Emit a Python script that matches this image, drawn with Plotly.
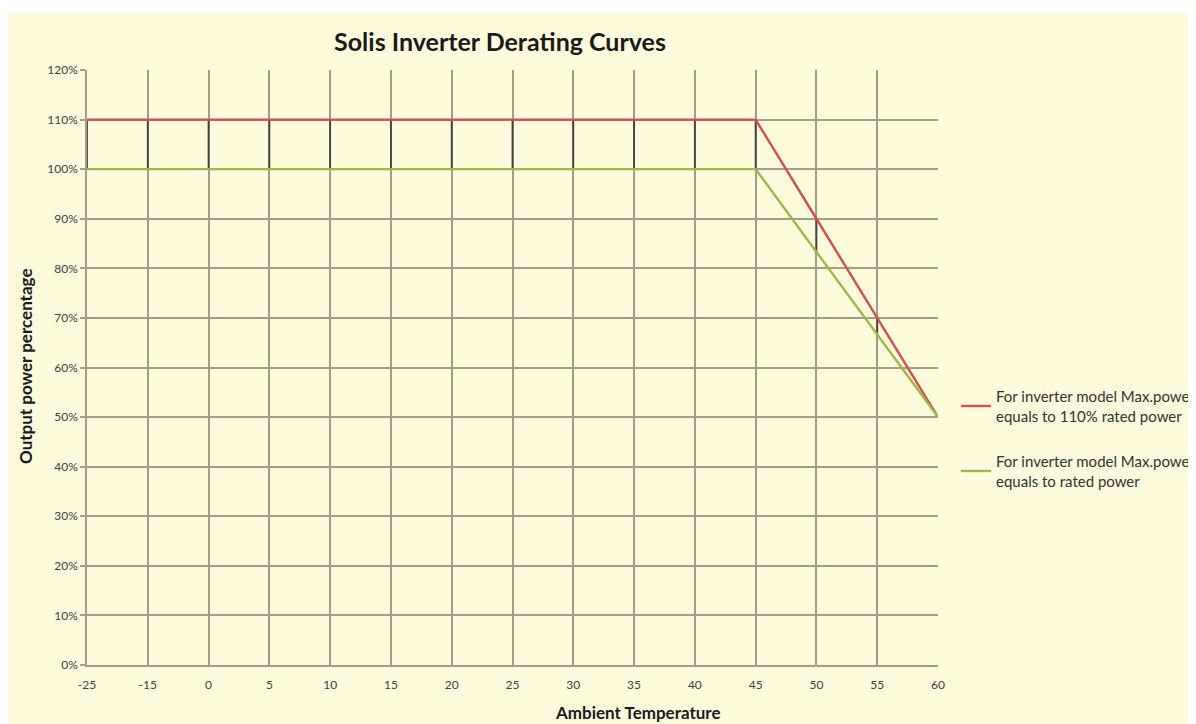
import plotly.graph_objects as go

temps = ["-25", "-15", "0", "5", "10", "15", "20", "25", "30", "35", "40", "45", "50", "55", "60"]
max110 = [110, 110, 110, 110, 110, 110, 110, 110, 110, 110, 110, 110, 90, 70, 50]
rated = [100, 100, 100, 100, 100, 100, 100, 100, 100, 100, 100, 100, 83.3, 66.7, 50]
yticks = [0, 10, 20, 30, 40, 50, 60, 70, 80, 90, 100, 110, 120]

BG = "#FEFADC"
GRID = "#A59C88"
RED = "#D0504D"
GREEN = "#9BB84A"
FONT = "Lato"

# figure coordinates (page body adds an 8px offset)
W, H = 1196, 724
L, T = 79, 62
R = W - 930
B = H - 657
pw, ph = W - L - R, H - T - B

def px_x(p):
    return (p - L) / pw

def px_y(p):
    return (H - B - p) / ph

# high-low connector lines
hx, hy = [], []
for t, a, b in zip(temps, max110, rated):
    hx += [t, t, None]
    hy += [b, a, None]

fig = go.Figure()
fig.add_trace(go.Scatter(x=hx, y=hy, mode="lines", line=dict(color="#404040", width=1.8),
                         showlegend=False, hoverinfo="skip"))
fig.add_trace(go.Scatter(x=temps, y=max110, mode="lines", line=dict(color=RED, width=2.4),
                         name="For inverter model Max.power<br>equals to 110% rated power", legend="legend"))
fig.add_trace(go.Scatter(x=temps, y=rated, mode="lines", line=dict(color=GREEN, width=2.4),
                         name="For inverter model Max.power<br>equals to rated power", legend="legend2"))

fig.add_shape(type="rect", xref="paper", yref="paper", x0=px_x(-10), x1=px_x(W + 10),
              y0=px_y(5), y1=px_y(-10), fillcolor="white", line=dict(width=0), layer="above")

legend_common = dict(bgcolor="rgba(0,0,0,0)", font=dict(family=FONT, size=15, color="#333333"),
                     xanchor="left", yanchor="middle", itemwidth=30, tracegroupgap=0)
fig.update_layout(
    width=W, height=H,
    margin=dict(l=L, r=R, t=T, b=B, autoexpand=False),
    paper_bgcolor=BG, plot_bgcolor=BG,
    font=dict(family=FONT, color="#404040"),
    title=dict(text="<b>Solis Inverter Derating Curves</b>", x=492 / W, xanchor="center",
               y=1 - 34 / H, yanchor="middle", font=dict(size=25, color="#1a1a1a", family=FONT)),
    legend=dict(x=px_x(948), y=px_y(398), **legend_common),
    legend2=dict(x=px_x(948), y=px_y(463), **legend_common),
    xaxis=dict(type="category", categoryorder="array", categoryarray=temps, range=[0, 14],
               showgrid=True, gridcolor=GRID, gridwidth=1.5, showline=True, linecolor=GRID, linewidth=1.5,
               ticks="", ticklabelstandoff=8, tickfont=dict(size=12, color="#404040", family=FONT),
               zeroline=False),
    yaxis=dict(range=[0, 120], tickvals=yticks, ticktext=[f"{v}%" for v in yticks],
               showgrid=True, gridcolor=GRID, gridwidth=1.5, showline=True, linecolor=GRID, linewidth=1.5,
               ticks="outside", ticklen=5, tickcolor=GRID, tickwidth=1.5,
               tickfont=dict(size=12, color="#404040", family=FONT),
               zeroline=False, mirror=False),
    annotations=[
        dict(text="<b>Ambient Temperature</b>", xref="paper", yref="paper", x=px_x(630), y=px_y(704),
             xanchor="center", yanchor="middle", showarrow=False, font=dict(size=17, color="#1a1a1a", family=FONT)),
        dict(text="<b>Output power percentage</b>", xref="paper", yref="paper", x=px_x(17), y=px_y(359),
             xanchor="center", yanchor="middle", textangle=-90, showarrow=False,
             font=dict(size=17, color="#1a1a1a", family=FONT)),
    ],
)

fig.write_html("out.html")
